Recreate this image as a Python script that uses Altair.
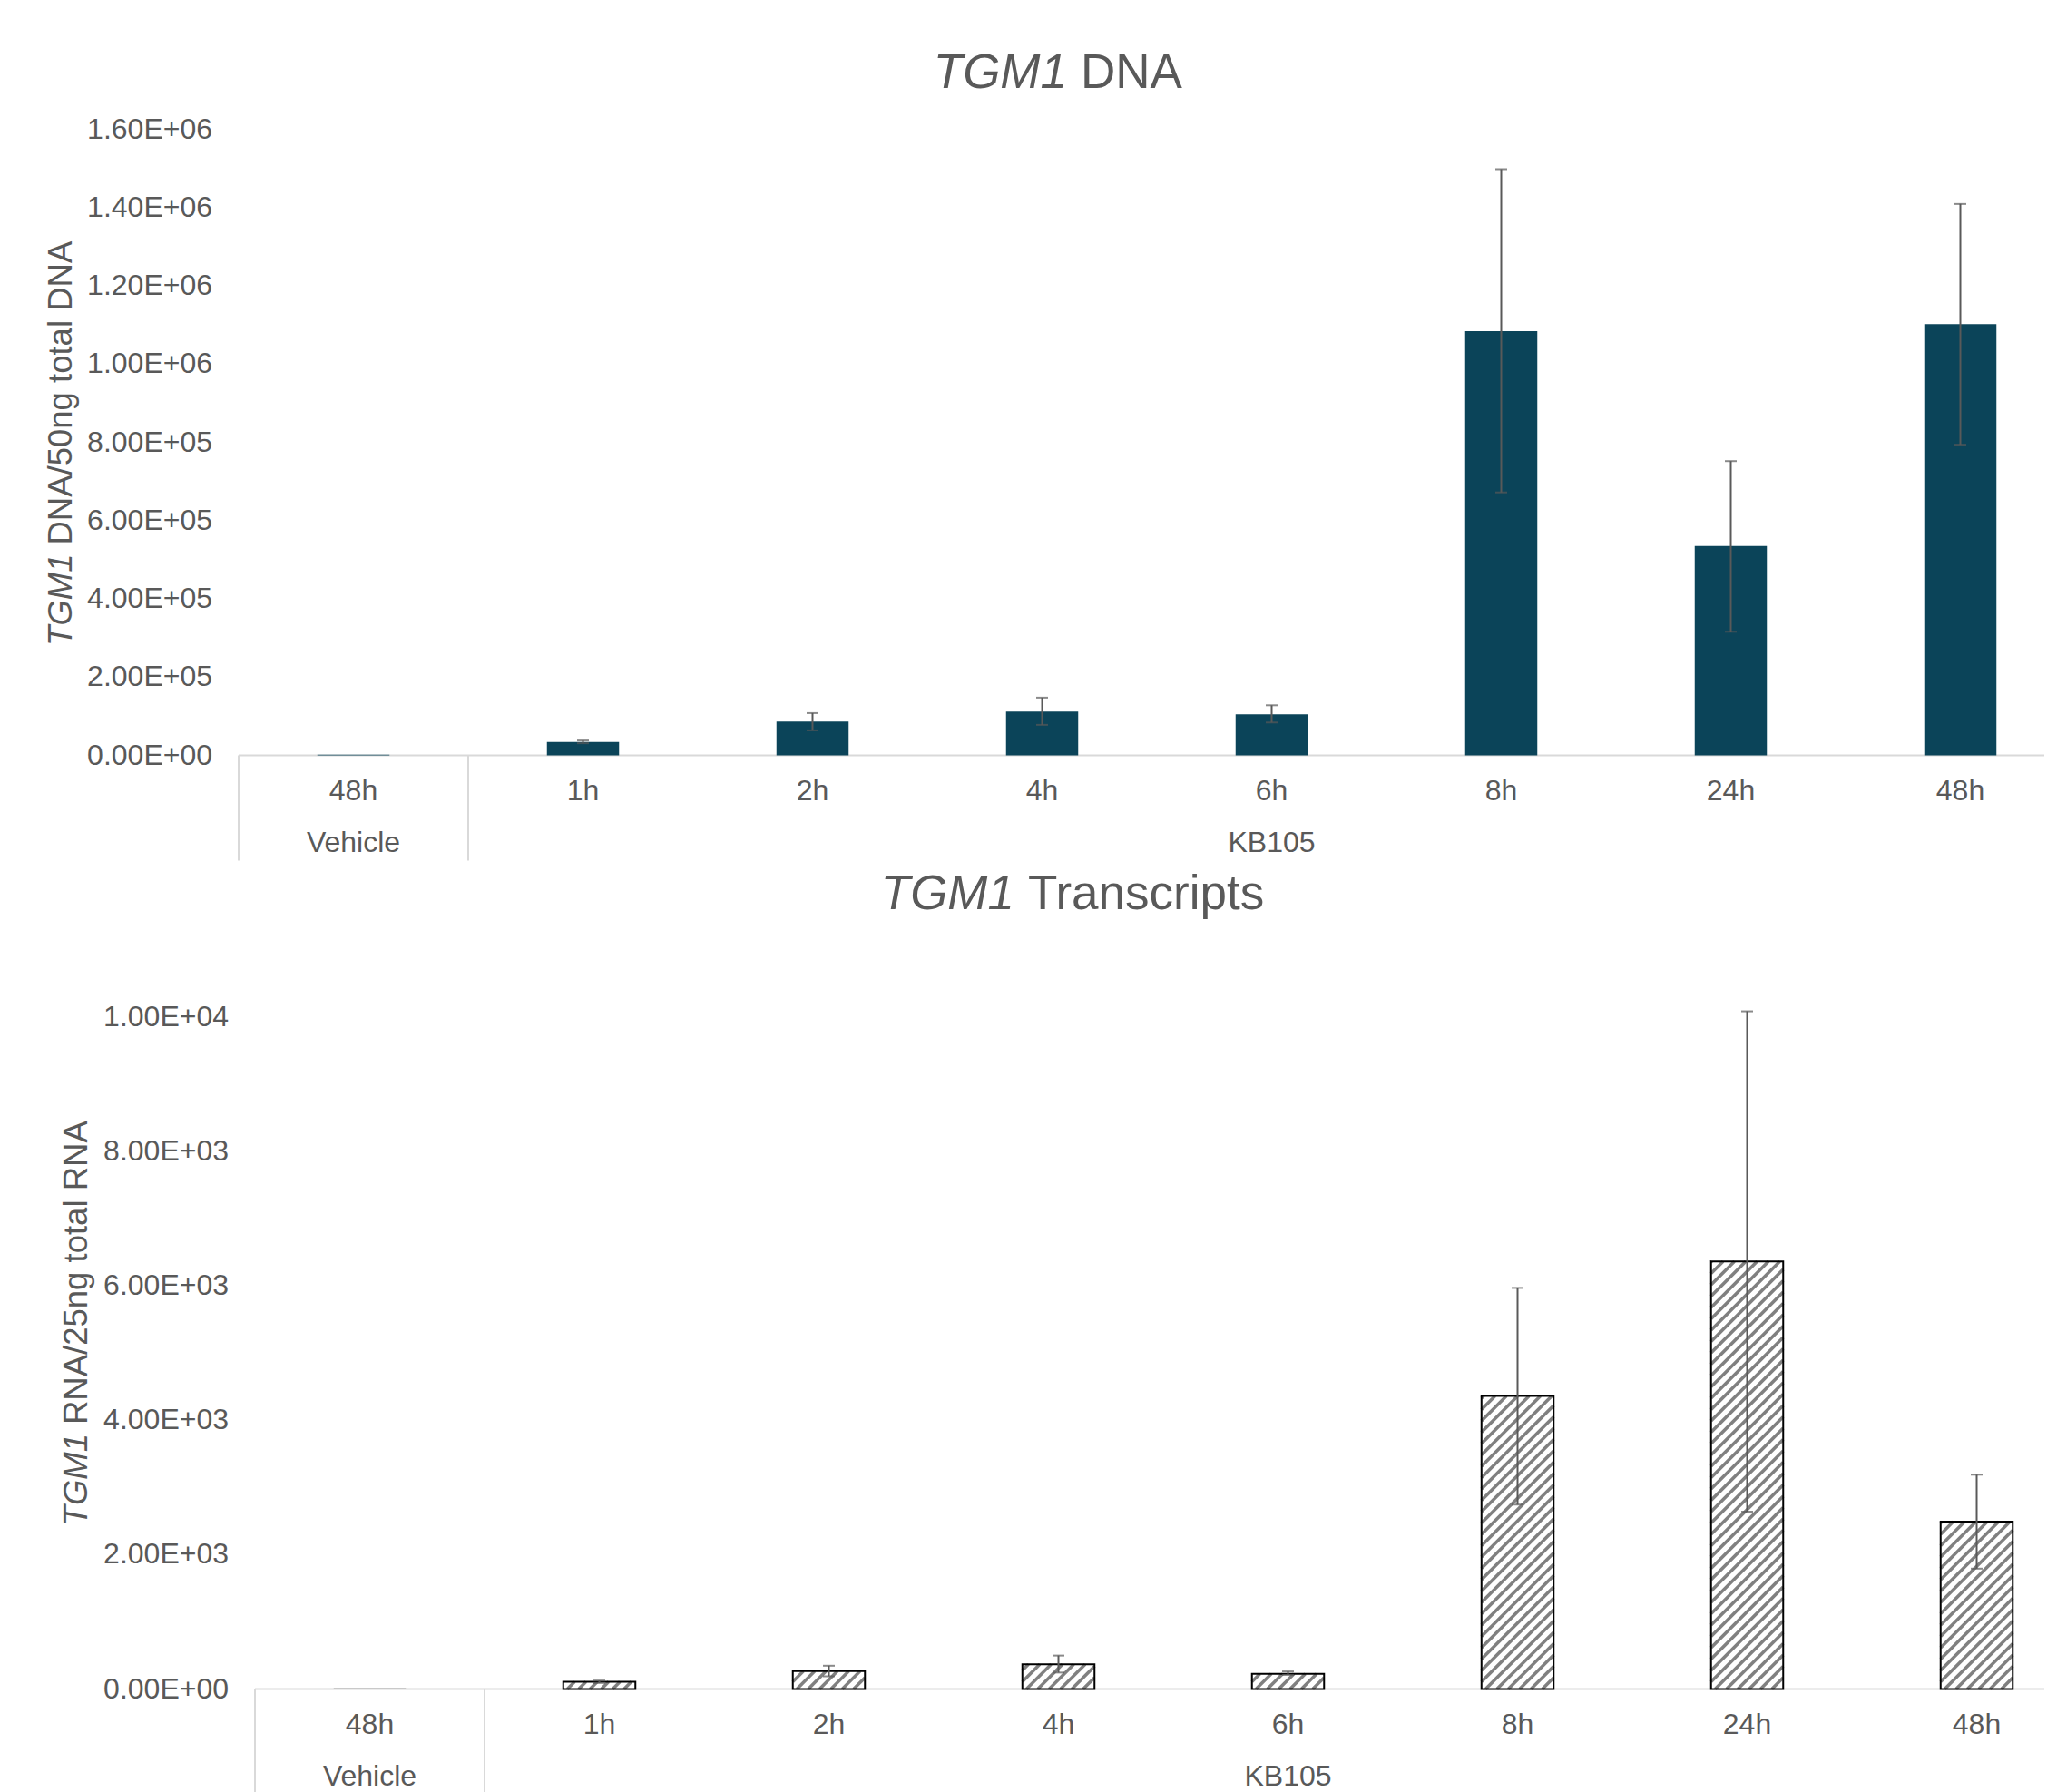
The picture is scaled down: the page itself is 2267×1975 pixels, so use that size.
import altair as alt
import pandas as pd

# ---------------- data ----------------
LABELS = ["48h", "1h", "2h", "4h", "6h", "8h", "24h", "48h"]
GROUPS = ["Vehicle", "KB105", "KB105", "KB105", "KB105", "KB105", "KB105", "KB105"]

DNA_MEAN = [1500, 34000, 86500, 112000, 105000, 1084000, 535000, 1102000]
DNA_LO = [1500, 31000, 64000, 78000, 84000, 672000, 316000, 794000]
DNA_HI = [1500, 38000, 108000, 147500, 128000, 1498000, 752000, 1409000]

RNA_MEAN = [15, 108, 266, 367, 227, 4362, 6364, 2491]
RNA_LO = [15, 90, 189, 245, 210, 2745, 2640, 1792]
RNA_HI = [15, 126, 347, 498, 262, 5970, 10087, 3190]

DNA_TICKS = [0, 200000, 400000, 600000, 800000, 1000000, 1200000, 1400000, 1600000]
DNA_TICK_LABELS = ["0.00E+00", "2.00E+05", "4.00E+05", "6.00E+05", "8.00E+05",
                   "1.00E+06", "1.20E+06", "1.40E+06", "1.60E+06"]
RNA_TICKS = [0, 2000, 4000, 6000, 8000, 10000]
RNA_TICK_LABELS = ["0.00E+00", "2.00E+03", "4.00E+03", "6.00E+03", "8.00E+03", "1.00E+04"]

TITLE1 = ("TGM1", "DNA")
TITLE2 = ("TGM1", "Transcripts")
YTITLE1 = ("TGM1", "DNA/50ng total DNA")
YTITLE2 = ("TGM1", "RNA/25ng total RNA")

# ---------------- style ----------------
FONT = "Liberation Sans"
TXT = "#595959"
AXC = "#D9D9D9"
BAR = "#0B4459"
ERR = "#595959"
HATCH = "#808080"
SLOT = 253.0
W = 1990
BW = 79.5
P = 12.5


def panel(mean, lo, hi, ticks, tick_labels, H, shift, title, tx, ty, ytitle, ytx, yty, hatched):
    n = len(LABELS)
    df = pd.DataFrame({"idx": list(range(n)), "label": LABELS, "group": GROUPS,
                       "mean": mean, "lo": lo, "hi": hi})
    df["center"] = df["idx"] + 0.5
    ymax = ticks[-1]
    x0 = -shift / SLOT
    xmax = x0 + W / SLOT
    xs = alt.Scale(domain=[x0, xmax], nice=False, zero=False, padding=0)
    ys = alt.Scale(domain=[0, ymax], nice=False, zero=True, padding=0)
    X = alt.X("center:Q", scale=xs, axis=None)
    Y = lambda f: alt.Y(f, scale=ys, axis=None)
    base = alt.Chart(df)

    layers = []
    # axis baseline
    axis_df = pd.DataFrame({"s": [0.0], "e": [xmax]})
    layers.append(alt.Chart(axis_df).mark_rule(color=AXC, strokeWidth=2).encode(
        x=alt.X("s:Q", scale=xs, axis=None), x2="e:Q", y=alt.value(H)))
    # group dividers
    bounds = [i for i in range(n) if i == 0 or GROUPS[i] != GROUPS[i - 1]]
    div_df = pd.DataFrame({"b": [float(b) for b in bounds]})
    layers.append(alt.Chart(div_df).mark_rule(color=AXC, strokeWidth=2).encode(
        x=alt.X("b:Q", scale=xs, axis=None), y=alt.value(H), y2=alt.value(H + 116)))

    # y tick labels
    tdf_ticks = pd.DataFrame({"v": ticks, "t": tick_labels})
    layers.append(alt.Chart(tdf_ticks).mark_text(font=FONT, fontSize=32, color=TXT,
                                                 align="right", baseline="middle")
                  .encode(x=alt.value(shift - 29), y=Y("v:Q"), text="t:N"))

    if not hatched:
        layers.append(base.mark_bar(size=BW, orient="vertical", color=BAR).encode(
            x=X, y=Y("mean:Q")))
    else:
        PY = H / ymax
        layers.append(base.mark_bar(size=BW, orient="vertical").encode(
            x=X, y=Y("mean:Q"),
            color=alt.condition(f"datum.mean * {PY} < 3", alt.value("#A6A6A6"),
                                alt.value("white"))))
        hatch = (base
                 .transform_calculate(hb=f"datum.mean * {PY}")
                 .transform_filter("datum.hb >= 3")
                 .transform_calculate(cs=f"sequence({-BW}, datum.hb, {P})")
                 .transform_flatten(["cs"], as_=["c"])
                 .transform_calculate(u0="max(0, -datum.c)")
                 .transform_calculate(u1=f"min({BW}, datum.hb - datum.c)")
                 .transform_filter("datum.u1 > datum.u0")
                 .transform_calculate(hx=f"datum.center + (datum.u0 - {BW / 2}) / {SLOT}")
                 .transform_calculate(hx2=f"datum.center + (datum.u1 - {BW / 2}) / {SLOT}")
                 .transform_calculate(hy=f"(datum.u0 + datum.c) / {PY}")
                 .transform_calculate(hy2=f"(datum.u1 + datum.c) / {PY}")
                 .mark_rule(color=HATCH, strokeWidth=3.5)
                 .encode(x=alt.X("hx:Q", scale=xs, axis=None), x2="hx2:Q",
                         y=Y("hy:Q"), y2="hy2:Q"))
        layers.append(hatch)
        layers.append(base.transform_filter(f"datum.mean * {PY} >= 3")
                      .mark_bar(size=BW, orient="vertical", fillOpacity=0,
                                stroke="black", strokeWidth=2)
                      .encode(x=X, y=Y("mean:Q")))

    eb = base.transform_filter("datum.hi > datum.lo")
    layers.append(eb.mark_rule(color=ERR, strokeWidth=2).encode(
        x=X, y=Y("lo:Q"), y2="hi:Q"))
    layers.append(eb.transform_fold(["lo", "hi"], as_=["k", "v"])
                  .mark_tick(orient="horizontal", size=13, thickness=2, color=ERR)
                  .encode(x=X, y=Y("v:Q")))

    # category labels
    layers.append(base.mark_text(font=FONT, fontSize=32, color=TXT, baseline="alphabetic")
                  .encode(x=X, y=alt.value(H + 49), text="label:N"))
    gdf = df.groupby("group", sort=False)["center"].mean().reset_index()
    layers.append(alt.Chart(gdf).mark_text(font=FONT, fontSize=32, color=TXT, baseline="alphabetic")
                  .encode(x=alt.X("center:Q", scale=xs, axis=None), y=alt.value(H + 106),
                          text="group:N"))

    # chart title (italic gene name + plain text)
    tdf = pd.DataFrame({"a": [title[0]], "b": [title[1]]})
    layers.append(alt.Chart(tdf).mark_text(font=FONT, fontSize=53, fontStyle="italic", color=TXT,
                                           align="right", baseline="alphabetic")
                  .encode(x=alt.value(tx), y=alt.value(ty), text="a:N"))
    layers.append(alt.Chart(tdf).mark_text(font=FONT, fontSize=53, color=TXT,
                                           align="left", baseline="alphabetic")
                  .encode(x=alt.value(tx + 15), y=alt.value(ty), text="b:N"))

    # y-axis title (rotated)
    ydf = pd.DataFrame({"a": [ytitle[0]], "b": [ytitle[1]]})
    layers.append(alt.Chart(ydf).mark_text(font=FONT, fontSize=36.5, fontStyle="italic", color=TXT,
                                           align="right", baseline="alphabetic", angle=270)
                  .encode(x=alt.value(ytx), y=alt.value(yty), text="a:N"))
    layers.append(alt.Chart(ydf).mark_text(font=FONT, fontSize=36.5, color=TXT,
                                           align="left", baseline="alphabetic", angle=270)
                  .encode(x=alt.value(ytx), y=alt.value(yty - 10), text="b:N"))

    return alt.layer(*layers).properties(width=W, height=H)


top = panel(DNA_MEAN, DNA_LO, DNA_HI, DNA_TICKS, DNA_TICK_LABELS, 690, 0, TITLE1, 913, -46,
            YTITLE1, -184, 468, hatched=False)
bottom = panel(RNA_MEAN, RNA_LO, RNA_HI, RNA_TICKS, RNA_TICK_LABELS, 740.5, 18, TITLE2, 855, -119.5,
               YTITLE2, -167, 459, hatched=True)

chart = (alt.vconcat(top, bottom, spacing=9.5)
         .properties(padding={"left": 42, "top": 46.5, "right": 0, "bottom": 0})
         .configure(font=FONT, background="white")
         .configure_view(strokeWidth=0, stroke="transparent"))

chart.save("out.html", embed_options={"renderer": "svg", "actions": False})
